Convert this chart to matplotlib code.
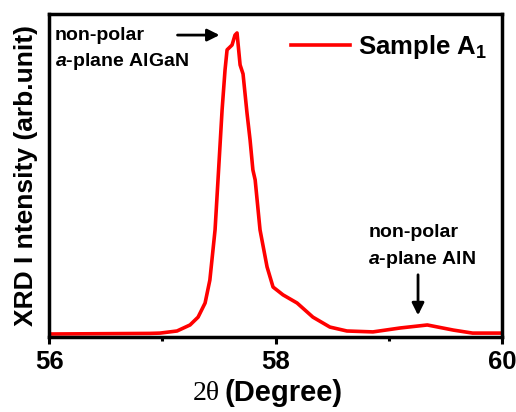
import numpy as np
import matplotlib.pyplot as plt

plt.rcParams['font.family'] = 'Liberation Sans'
plt.rcParams['font.weight'] = 'bold'
plt.rcParams['mathtext.fontset'] = 'custom'
plt.rcParams['mathtext.rm'] = 'Liberation Sans:bold'
plt.rcParams['mathtext.it'] = 'Liberation Sans:italic:bold'
plt.rcParams['mathtext.bf'] = 'Liberation Sans:bold'

# XRD scan of sample A1
two_theta = [56.01, 56.45, 56.89, 56.98, 57.13, 57.245, 57.316, 57.378, 57.42,
             57.466, 57.492, 57.528, 57.554, 57.572, 57.616, 57.642, 57.66,
             57.687, 57.713, 57.748, 57.775, 57.80, 57.82, 57.863, 57.925,
             57.978, 58.066, 58.19, 58.33, 58.48, 58.63, 58.86, 59.10, 59.34,
             59.57, 59.74, 59.98]
intensity = [0.0, 0.001, 0.002, 0.003, 0.010, 0.030, 0.056, 0.103, 0.179,
             0.346, 0.512, 0.744, 0.877, 0.944, 0.960, 0.993, 1.0,
             0.894, 0.864, 0.734, 0.645, 0.545, 0.512, 0.346, 0.223,
             0.156, 0.130, 0.103, 0.056, 0.023, 0.010, 0.007, 0.020, 0.030,
             0.013, 0.003, 0.003]

fig = plt.figure(figsize=(5.16, 4.12), dpi=100)
ax = fig.add_axes([0.095, 0.182, 0.878, 0.784])

ax.plot(two_theta, intensity, color='red', lw=2.6, label='Sample A$_1$',
        solid_joinstyle='round')

ax.set_xlim(56, 60)
ax.set_ylim(-0.01, 1.063)
ax.set_xticks([56, 58, 60])
ax.set_xticks([57, 59], minor=True)
ax.set_yticks([])
ax.tick_params(axis='x', which='major', direction='out', length=5, width=2.2,
               labelsize=18.5, pad=4)
ax.tick_params(axis='x', which='minor', direction='out', length=3, width=2.2)
for s in ax.spines.values():
    s.set_linewidth(2.5)

ax.set_ylabel('XRD I ntensity (arb.unit)', fontsize=19, fontweight='bold', labelpad=8)

# x label: serif 2θ + bold (Degree)
fig.text(0.426, 0.046, '2θ', family='Liberation Serif', fontweight='normal',
         fontsize=20, ha='right', va='center')
fig.text(0.436, 0.046, '(Degree)', fontsize=21, fontweight='bold',
         ha='left', va='center')

ax.legend(loc='center right', bbox_to_anchor=(0.968, 0.898), frameon=False,
          fontsize=18.5, handlelength=2.3, handletextpad=0.34, borderpad=0,
          borderaxespad=0)

# annotations
ax.text(56.053, 0.993, 'non-polar', fontsize=14, va='center', ha='left')
ax.text(56.053, 0.904, '$a$-plane AlGaN', fontsize=14, va='center', ha='left')
ax.annotate('', xy=(57.53, 0.993), xytext=(57.11, 0.993),
            arrowprops=dict(arrowstyle='-|>', color='black', lw=2,
                            mutation_scale=18))

ax.text(58.82, 0.336, 'non-polar', fontsize=14, va='center', ha='left')
ax.text(58.82, 0.246, '$a$-plane AlN', fontsize=14, va='center', ha='left')
ax.annotate('', xy=(59.258, 0.053), xytext=(59.258, 0.206),
            arrowprops=dict(arrowstyle='-|>', color='black', lw=2,
                            mutation_scale=18))

fig.savefig('out.png', dpi=100)
